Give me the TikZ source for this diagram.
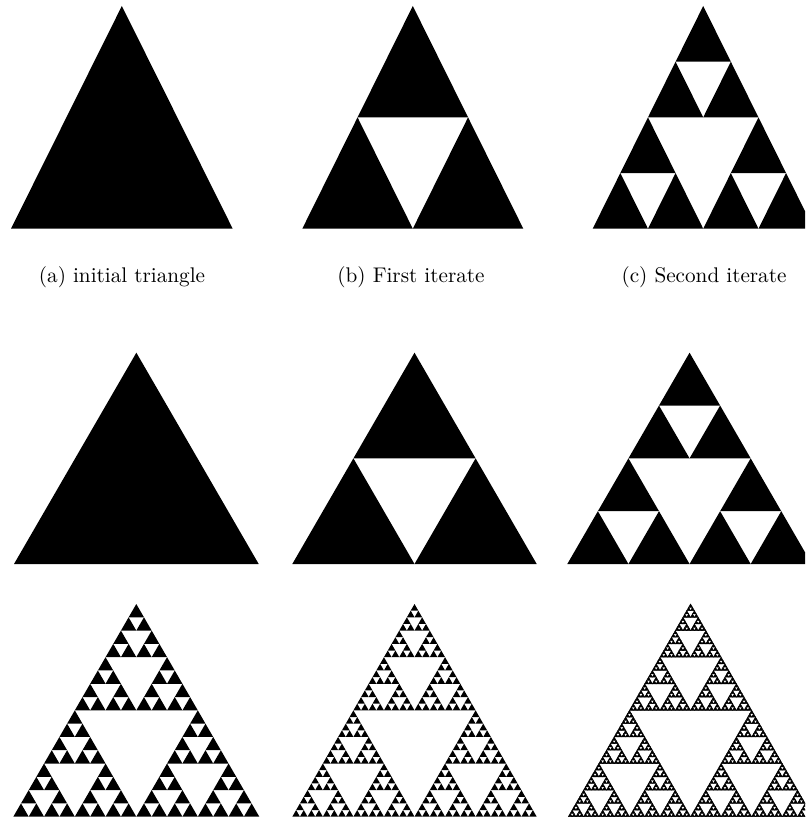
\documentclass[tikz,border=0pt]{standalone}
\usepackage{tikz}

% level, left x, base y, width, height
\newcommand{\sierp}[5]{%
  \ifnum#1=0
    \path[tri] (#2,#3) -- ++(#4,0) -- ++(-#4/2,-#5) -- cycle;
  \else
    \begingroup
    \pgfmathtruncatemacro\lvl{#1-1}%
    \pgfmathsetmacro\hw{#4/2}%
    \pgfmathsetmacro\hh{#5/2}%
    \pgfmathsetmacro\xm{#2+#4/4}%
    \pgfmathsetmacro\xr{#2+#4/2}%
    \pgfmathsetmacro\ym{#3-#5/2}%
    \edef\nxt{\noexpand\sierp{\lvl}{#2}{#3}{\hw}{\hh}%
      \noexpand\sierp{\lvl}{\xr}{#3}{\hw}{\hh}%
      \noexpand\sierp{\lvl}{\xm}{\ym}{\hw}{\hh}}%
    \nxt
    \endgroup
  \fi}

\tikzset{
  tri/.style={fill=black},
  caplabel/.style={font=\fontsize{10.6}{13}\selectfont, inner sep=0pt}}

\begin{document}
\begin{tikzpicture}[x=0.5pt, y=-0.5pt]
\useasboundingbox (0,0) rectangle (805,817);
\clip (0,0) rectangle (805,817);

% top row
\sierp{0}{11}{228.7}{221.7}{222.7}
\sierp{1}{302.3}{228.7}{221}{222.7}
\sierp{2}{592.7}{228.7}{221}{222.7}

\node[caplabel] (capa) at (122,277) {(a) initial triangle};
\node[caplabel] (capb) at (411,277) {(b) First iterate};
\node[caplabel] (capc) at (704,277) {(c) Second iterate};

% middle row
\sierp{0}{14}{564}{244.7}{211.3}
\sierp{1}{292.3}{564}{244.4}{211.3}
\sierp{2}{567.3}{564}{244.5}{211.3}

% bottom row
\sierp{4}{13.3}{816.7}{246}{212.7}
\sierp{5}{292.3}{816.7}{244.4}{212.7}
\begin{scope}[tri/.append style={draw=black, line width=0.25pt}]
\sierp{6}{568.3}{816.7}{244.5}{212.7}
\end{scope}
\end{tikzpicture}
\end{document}
